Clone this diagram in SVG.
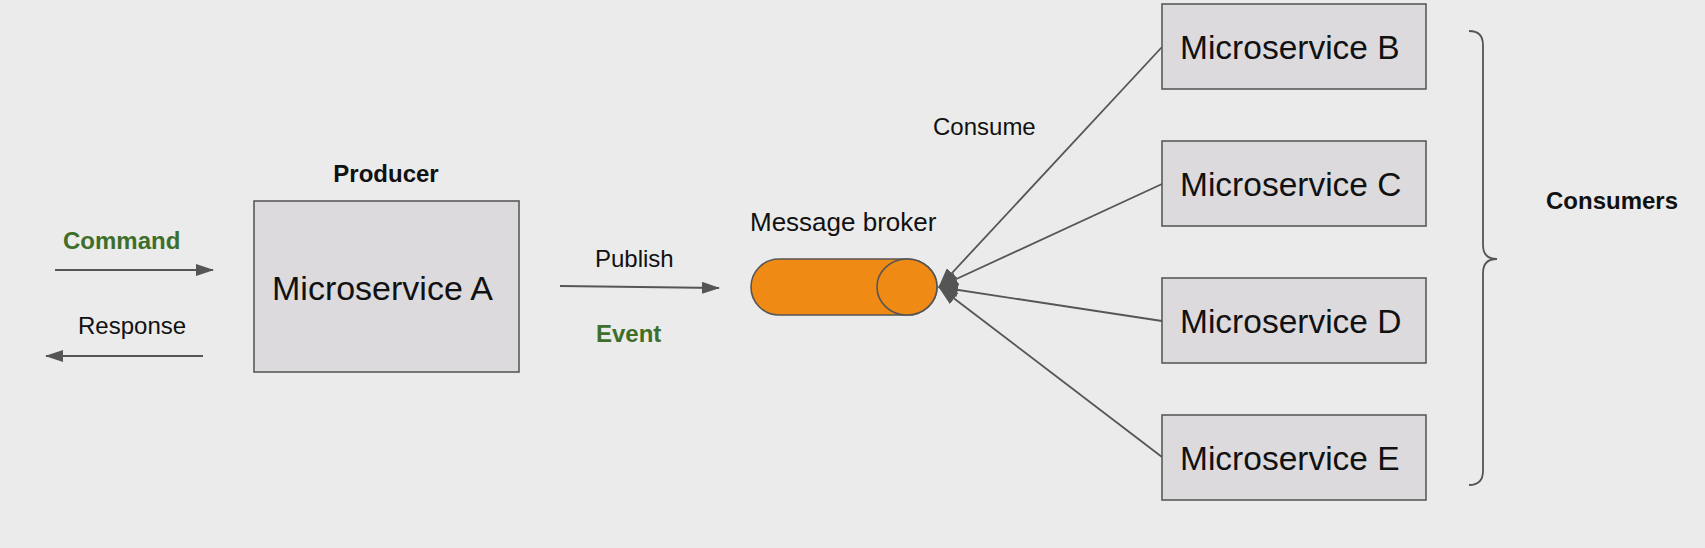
<svg xmlns="http://www.w3.org/2000/svg" width="1705" height="548" viewBox="0 0 1705 548">
<style>
.bg{fill:#ebebeb}
.box{fill:#dcdadc;stroke:#5a5a5a;stroke-width:1.6}
.big{font-family:"Liberation Sans",Arial,sans-serif;font-size:34px;fill:#111}
.big2{font-family:"Liberation Sans",Arial,sans-serif;font-size:33.5px;fill:#111}
.lbl{font-family:"Liberation Sans",Arial,sans-serif;font-size:24px;fill:#111}
.bold{font-family:"Liberation Sans",Arial,sans-serif;font-size:24px;font-weight:bold;fill:#111}
.green{fill:#3e6f2a}
.ln{stroke:#555;stroke-width:1.8;fill:none}
</style>
<defs>
<marker id="ahb" markerWidth="18" markerHeight="12" refX="17" refY="6" orient="auto" markerUnits="userSpaceOnUse" viewBox="0 0 18 12">
<path d="M0,0 L18,6 L0,12 Z" fill="#555"/>
</marker>
<marker id="ahc" markerWidth="20" markerHeight="14" refX="19" refY="7" orient="auto" markerUnits="userSpaceOnUse" viewBox="0 0 20 14">
<path d="M0,0 L20,7 L0,14 Z" fill="#555"/>
</marker>
</defs>
<rect class="bg" x="0" y="0" width="1705" height="548"/>
<g id="connectors">
<line class="ln" x1="55" y1="270" x2="213" y2="270" marker-end="url(#ahb)"/>
<line class="ln" x1="203" y1="356" x2="46" y2="356" marker-end="url(#ahb)"/>
<line class="ln" x1="560" y1="286" x2="719" y2="288" marker-end="url(#ahb)"/>
<line class="ln" x1="1162" y1="47" x2="939" y2="287" marker-end="url(#ahc)"/>
<line class="ln" x1="1162" y1="184" x2="939" y2="287" marker-end="url(#ahc)"/>
<line class="ln" x1="1162" y1="321" x2="939" y2="287" marker-end="url(#ahc)"/>
<line class="ln" x1="1162" y1="457" x2="939" y2="287" marker-end="url(#ahc)"/>
</g>
<g id="labels">
<text class="bold green" x="63" y="249">Command</text>
<text class="lbl" x="78" y="334">Response</text>
<text class="lbl" x="595" y="267">Publish</text>
<text class="bold green" x="596" y="342">Event</text>
<text class="lbl" x="933" y="135">Consume</text>
</g>
<g id="producer">
<text class="bold" x="386" y="182" text-anchor="middle">Producer</text>
<rect class="box" x="254" y="201" width="265" height="171"/>
<text class="big" x="272" y="300">Microservice A</text>
</g>
<g id="broker">
<text class="lbl" x="750" y="231" style="font-size:26px">Message broker</text>
<path d="M779,259 L907,259 A30,28 0 0 1 907,315 L779,315 A28,28 0 0 1 779,259 Z" fill="#ef8a15" stroke="#555" stroke-width="1.6"/>
<ellipse cx="907" cy="287" rx="30" ry="28" fill="#ef8a15" stroke="#555" stroke-width="1.6"/>
</g>
<g id="msB">
<rect class="box" x="1162" y="4" width="264" height="85"/>
<text class="big2" x="1180" y="59">Microservice B</text>
</g>
<g id="msC">
<rect class="box" x="1162" y="141" width="264" height="85"/>
<text class="big2" x="1180" y="196">Microservice C</text>
</g>
<g id="msD">
<rect class="box" x="1162" y="278" width="264" height="85"/>
<text class="big2" x="1180" y="333">Microservice D</text>
</g>
<g id="msE">
<rect class="box" x="1162" y="415" width="264" height="85"/>
<text class="big2" x="1180" y="470">Microservice E</text>
</g>
<g id="consumers">
<path class="ln" d="M1469,31 Q1483,31 1483,45 L1483,245 Q1483,259 1497,259 Q1483,259 1483,273 L1483,471 Q1483,485 1469,485"/>
<text class="bold" x="1546" y="209">Consumers</text>
</g>
</svg>
